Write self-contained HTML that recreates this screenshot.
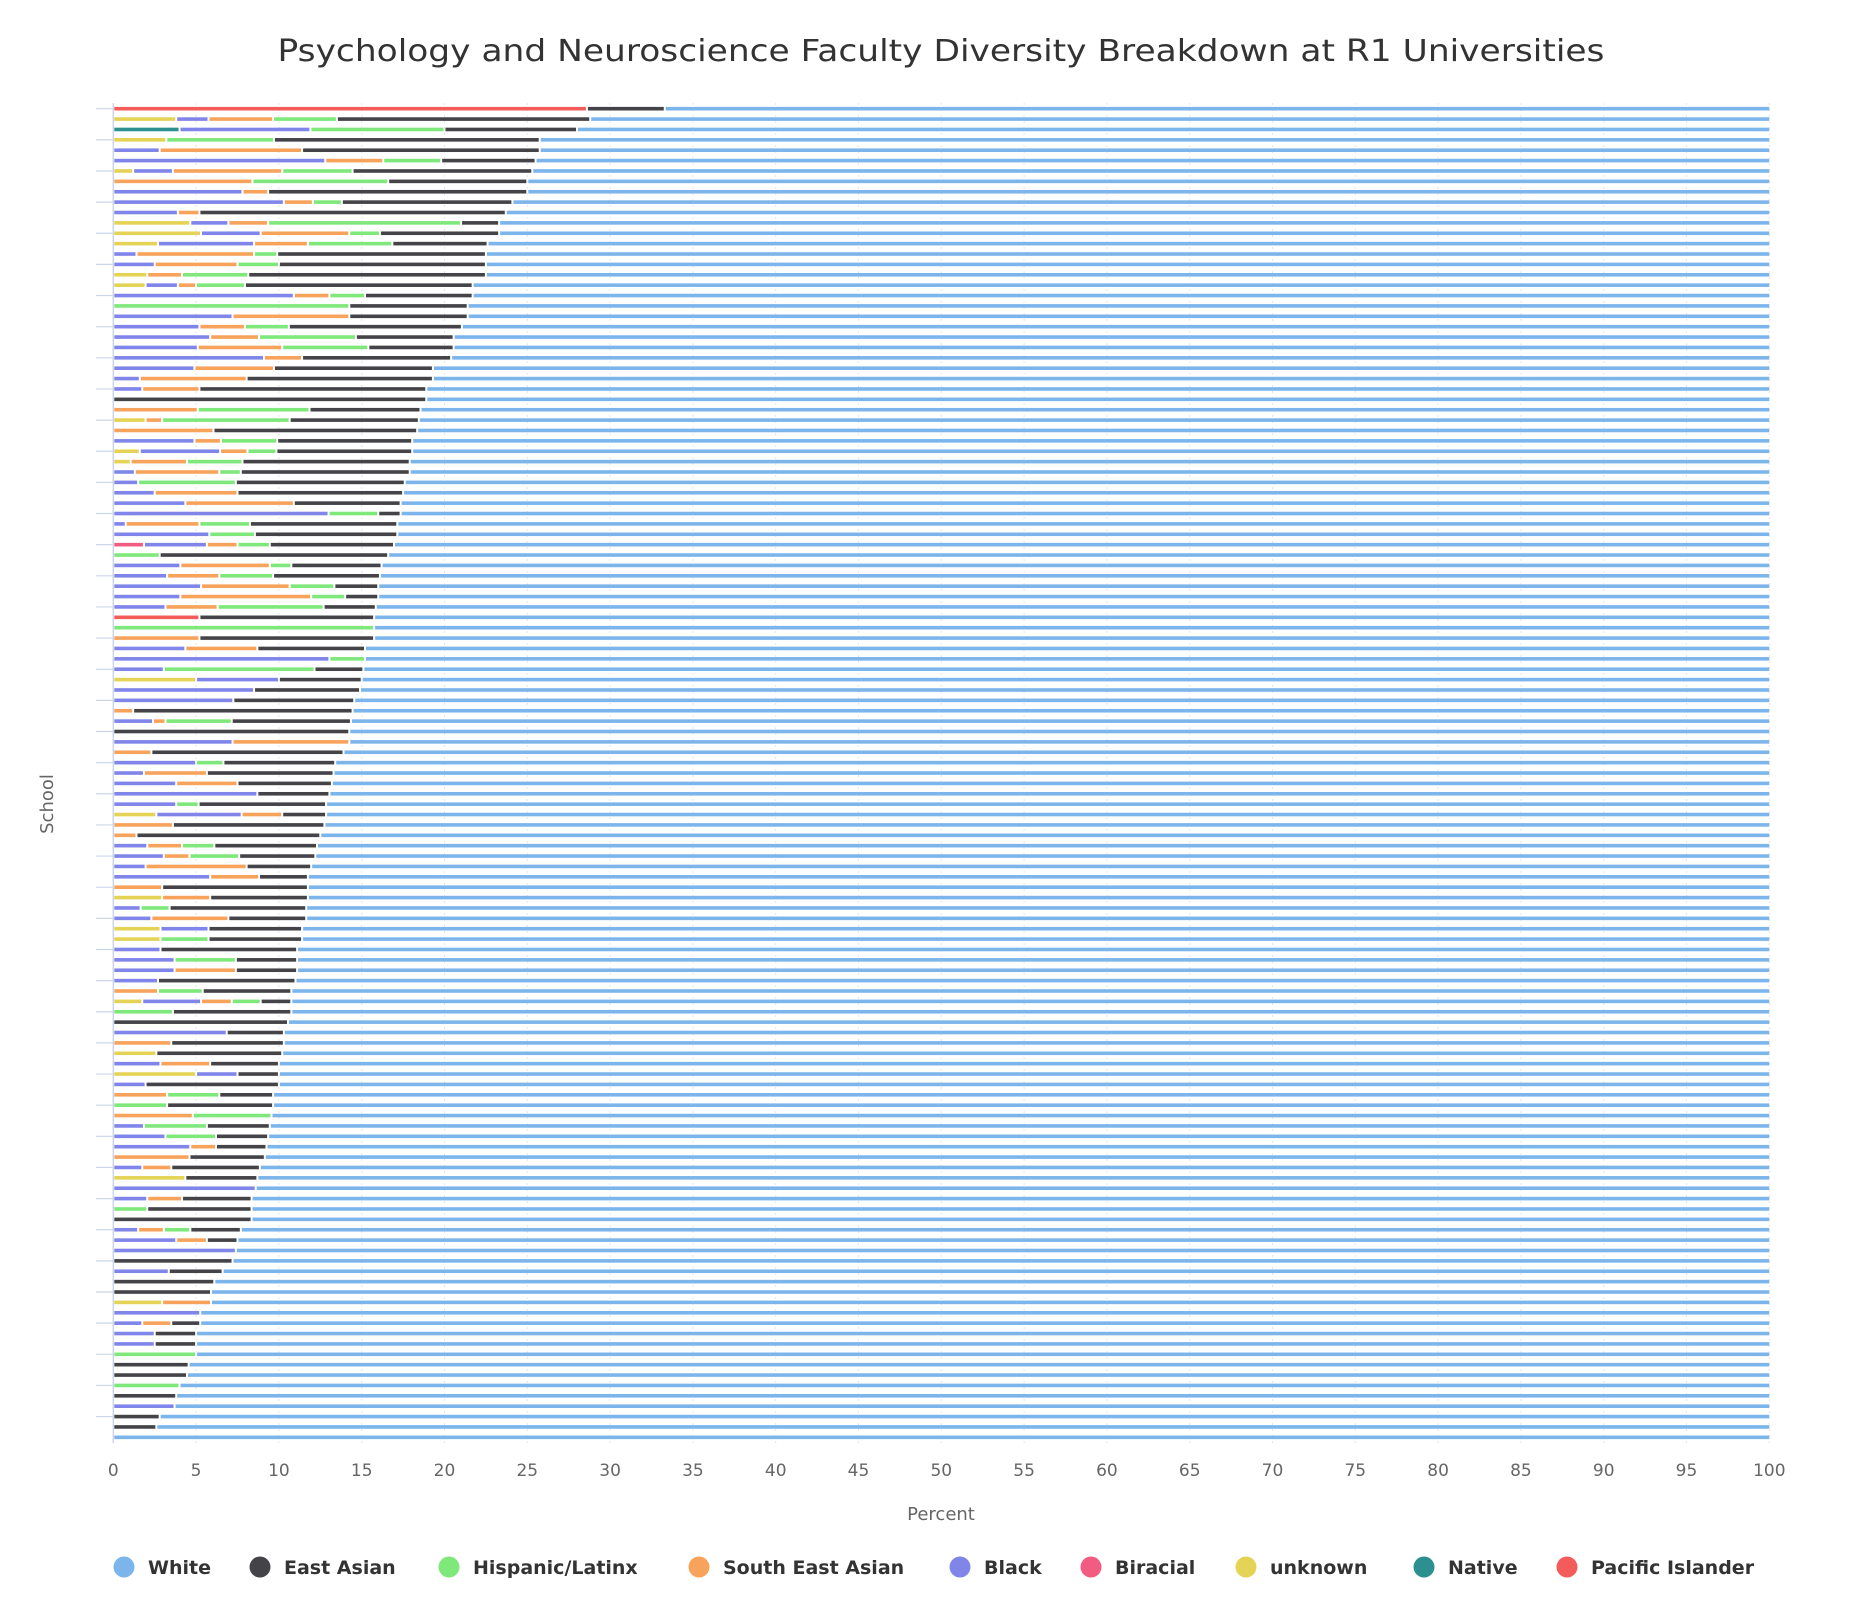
<!DOCTYPE html>
<html><head><meta charset="utf-8"><style>
html,body{margin:0;padding:0;background:#fff;}
svg{display:block;font-family:"DejaVu Sans","Liberation Sans",sans-serif;}
</style></head><body>
<svg id="chart" width="1854" height="1624" viewBox="0 0 1854 1624" xmlns="http://www.w3.org/2000/svg">
<rect width="1854" height="1624" fill="#fff"/>
<text x="941" y="61" text-anchor="middle" font-size="30" fill="#333" textLength="1327" lengthAdjust="spacingAndGlyphs">Psychology and Neuroscience Faculty Diversity Breakdown at R1 Universities</text>
<g id="grid"></g>
<g id="bars"></g>
<g id="axes"></g>
<text x="941" y="1520" text-anchor="middle" font-size="18" fill="#666">Percent</text>
<text transform="translate(53,804) rotate(-90)" text-anchor="middle" font-size="18" fill="#666">School</text>
<g id="legend"></g>
</svg>
<script>
const pacificIslander=[28.6,0,0,0,0,0,0,0,0,0, 0,0,0,0,0,0,0,0,0,0, 0,0,0,0,0,0,0,0,0,0, 0,0,0,0,0,0,0,0,0,0, 0,0,0,0,0,0,0,0,0,5.2, 0,0,0,0,0,0,0,0,0,0, 0,0,0,0,0,0,0,0,0,0, 0,0,0,0,0,0,0,0,0,0, 0,0,0,0,0,0,0,0,0,0, 0,0,0,0,0,0,0,0,0,0, 0,0,0,0,0,0,0,0,0,0, 0,0,0,0,0,0,0,0,0,0, 0,0,0,0,0,0,0,0,0];
const native=[0,0,4.0,0,0,0,0,0,0,0, 0,0,0,0,0,0,0,0,0,0, 0,0,0,0,0,0,0,0,0,0, 0,0,0,0,0,0,0,0,0,0, 0,0,0,0,0,0,0,0,0,0, 0,0,0,0,0,0,0,0,0,0, 0,0,0,0,0,0,0,0,0,0, 0,0,0,0,0,0,0,0,0,0, 0,0,0,0,0,0,0,0,0,0, 0,0,0,0,0,0,0,0,0,0, 0,0,0,0,0,0,0,0,0,0, 0,0,0,0,0,0,0,0,0,0, 0,0,0,0,0,0,0,0,0];
const unknown=[0,3.8,0,3.2,0,0,1.2,0,0,0, 0,4.65,5.3,2.7,0,0,2.05,1.95,0,0, 0,0,0,0,0,0,0,0,0,0, 1.95,0,0,1.6,1.05,0,0,0,0,0, 0,0,0,0,0,0,0,0,0,0, 0,0,0,0,0,5,0,0,0,0, 0,0,0,0,0,0,0,0,2.6,0, 0,0,0,0,0,0,2.95,0,0,2.85, 2.85,0,0,0,0,0,1.75,0,0,0, 0,2.6,0,5,0,0,0,0,0,0, 0,0,0,4.35,0,0,0,0,0,0, 0,0,0,0,0,2.95,0,0,0,0, 0,0,0,0,0,0,0,0,0];
const biracial=[0,0,0,0,0,0,0,0,0,0, 0,0,0,0,0,0,0,0,0,0, 0,0,0,0,0,0,0,0,0,0, 0,0,0,0,0,0,0,0,0,0, 0,0,1.85,0,0,0,0,0,0,0, 0,0,0,0,0,0,0,0,0,0, 0,0,0,0,0,0,0,0,0,0, 0,0,0,0,0,0,0,0,0,0, 0,0,0,0,0,0,0,0,0,0, 0,0,0,0,0,0,0,0,0,0, 0,0,0,0,0,0,0,0,0,0, 0,0,0,0,0,0,0,0,0,0, 0,0,0,0,0,0,0,0,0];
const black=[0,1.95,7.9,0,2.8,12.8,2.4,0,7.8,10.3, 3.9,2.3,3.6,5.8,1.4,2.5,0,1.95,10.9,0, 7.2,5.2,5.85,5.1,9.1,4.9,1.6,1.75,0,0, 0,0,4.9,4.85,0,1.3,1.5,2.5,4.35,13, 0.75,5.8,3.8,0,4.05,3.25,5.3,4.05,3.15,0, 0,0,4.35,13.05,3.05,5,8.5,7.25,0,2.4, 0,7.2,0,5,1.85,3.8,8.7,3.8,5.15,0, 0,2.05,3.05,1.95,5.85,0,0,1.65,2.3,2.9, 0,2.85,3.7,3.7,2.7,0,3.55,0,0,6.85, 0,0,2.85,2.5,1.95,0,0,0,1.85,3.15, 4.65,0,1.75,0,8.6,2.05,0,0,1.5,3.8, 7.4,0,3.35,0,0,0,5.25,1.75,2.5,2.5, 0,0,0,0,0,3.7,0,0,0];
const southEastAsian=[0,3.9,0,0,8.6,3.5,6.6,8.4,1.55,1.75, 1.3,2.4,5.35,3.25,7.1,5.0,2.1,1.1,2.15,0, 7.05,2.75,2.95,5.1,2.3,4.8,6.45,3.45,0,5.1, 1.0,6.05,1.6,1.65,3.4,5.1,0,5.0,6.55,0, 4.45,0,1.85,0,5.4,3.15,5.35,7.9,3.15,0, 0,5.2,4.35,0,0,0,0,0,1.2,0.75, 0,7.05,2.3,0,3.8,3.7,0,0,2.45,3.6, 1.4,2.1,1.55,6.1,2.95,2.95,2.9,0,4.65,0, 0,0,0,3.7,0,2.7,1.85,0,0,0, 3.5,0,3.0,0,0,3.25,0,4.8,0,0, 1.55,4.6,1.75,0,0,2.1,0,0,1.55,1.85, 0,0,0,0,0,2.95,0,1.75,0,0, 0,0,0,0,0,0,0,0,0];
const hispanic=[0,3.85,8.1,6.5,0,3.5,4.25,8.2,0,1.75, 0,11.65,1.85,5.1,1.4,2.5,4.0,2.95,2.15,14.25, 0,2.65,5.85,5.2,0,0,0,0,0,6.75, 7.7,0,3.4,1.75,3.35,1.3,5.9,0,0,3, 3.05,2.75,1.95,2.8,1.3,3.25,2.7,2.05,6.4,0, 15.75,0,0,2.15,9.1,0,0,0,0,4.0, 0,0,0,1.65,0,0,0,1.35,0,0, 0,1.95,3.0,0,0,0,0,1.75,0,0, 2.9,0,3.7,0,0,2.7,1.75,3.6,0,0, 0,0,0,0,0,3.15,3.25,4.75,3.8,3.05, 0,0,0,0,0,0,2.05,0,1.6,0, 0,0,0,0,0,0,0,0,0,0, 5,0,0,4,0,0,0,0,0];
const eastAsian=[4.7,15.3,8.0,16.05,14.35,5.7,10.85,8.4,15.65,10.3, 18.5,2.3,7.2,5.75,12.6,12.5,14.35,13.75,6.5,7.15, 7.15,10.45,5.9,5.15,9.0,9.6,11.25,13.7,18.9,6.7, 7.8,12.3,8.15,8.2,10.1,10.2,10.2,10.0,6.45,1.35, 8.9,8.6,7.5,13.8,5.45,6.45,2.65,2.0,3.15,10.55, 0,10.55,6.5,0,2.95,5,6.4,7.3,13.25,7.2, 14.25,0,11.6,6.75,7.65,5.7,4.35,7.7,2.65,9.15, 11.1,6.2,4.6,3.9,2.95,8.8,5.9,8.25,4.7,5.65, 5.65,8.25,3.7,3.7,8.3,5.35,1.85,7.15,10.55,3.45, 6.8,7.6,4.15,2.5,8.05,3.25,6.4,0,3.8,3.15, 3.05,4.55,5.35,4.35,0,4.2,6.3,8.35,3.05,1.85, 0,7.2,3.25,6.1,5.9,0,0,1.75,2.5,2.5, 0,4.55,4.45,0,3.8,0,2.8,2.6,0];
const xTicks=[0,5,10,15,20,25,30,35,40,45,50,55,60,65,70,75,80,85,90,95,100];
const legendLabels=["White","East Asian","Hispanic/Latinx","South East Asian","Black","Biracial","unknown","Native","Pacific Islander"];

const NS="http://www.w3.org/2000/svg";
const X0=113.3, XS=16.56, Y0=108.7, YS=10.38, BH=3.6;
function x(v){return X0+v*XS;}
function y(i){return Y0+i*YS;}
function mk(tag,attrs,parent){const e=document.createElementNS(NS,tag);for(const k in attrs)e.setAttribute(k,attrs[k]);parent.appendChild(e);return e;}

const grid=document.getElementById('grid');
xTicks.forEach(t=>{
  if(t===0)return;
  const l=mk('line',{x1:x(t),x2:x(t),y1:103,y2:1443,stroke:'#e6e6e6','stroke-width':1,'stroke-dasharray':'2,4'},grid);
  
  
});

const stack=[
 {d:pacificIslander,c:'#f45b5b',n:'pacific-islander'},
 {d:native,c:'#2b908f',n:'native'},
 {d:unknown,c:'#e4d354',n:'unknown'},
 {d:biracial,c:'#f15c80',n:'biracial'},
 {d:black,c:'#8085e9',n:'black'},
 {d:southEastAsian,c:'#f7a35c',n:'south-east-asian'},
 {d:hispanic,c:'#7ee87a',n:'hispanic'},
 {d:eastAsian,c:'#434348',n:'east-asian'}
];
const bars=document.getElementById('bars');
const N=eastAsian.length;
for(let i=0;i<N;i++){
  let cum=0;
  stack.forEach(s=>{
    const v=s.d[i];
    if(v>0){
      const r=mk('rect',{x:x(cum)+1,y:y(i)-BH/2,width:Math.max(0.5,x(cum+v)-x(cum)-2),height:BH,fill:s.c},bars);
      
      
    }
    cum+=v;
  });
  const r=mk('rect',{x:x(cum)+1,y:y(i)-BH/2,width:Math.max(0.5,x(100)-x(cum)-1),height:BH,fill:'#7cb5ec'},bars);
  
  
}

const axes=document.getElementById('axes');
const al=mk('line',{x1:X0,x2:X0,y1:103,y2:1443,stroke:'#ccd6eb','stroke-width':1.5},axes);


for(let i=0;i<N;i+=3){
  const t=mk('line',{x1:96,x2:X0,y1:y(i),y2:y(i),stroke:'#ccd6eb','stroke-width':1.2},axes);
  
  
}
xTicks.forEach(t=>{
  const tx=mk('text',{x:x(t),y:1476,'text-anchor':'middle','font-size':17,fill:'#666'},axes);
  tx.textContent=t;
  
  
});

const legendColors=['#7cb5ec','#434348','#7ee87a','#f7a35c','#8085e9','#f15c80','#e4d354','#2b908f','#f45b5b'];
const legendX=[124,260,449,699,960,1091,1246,1424,1567];
const lg=document.getElementById('legend');
legendLabels.forEach((lab,k)=>{
  const g=mk('g',{},lg);
  
  
  mk('circle',{cx:legendX[k],cy:1567,r:10.5,fill:legendColors[k]},g);
  const t=mk('text',{x:legendX[k]+24,y:1574,'font-size':19,'font-weight':'bold',fill:'#333'},g);
  t.textContent=lab;
});
</script>
</body></html>
